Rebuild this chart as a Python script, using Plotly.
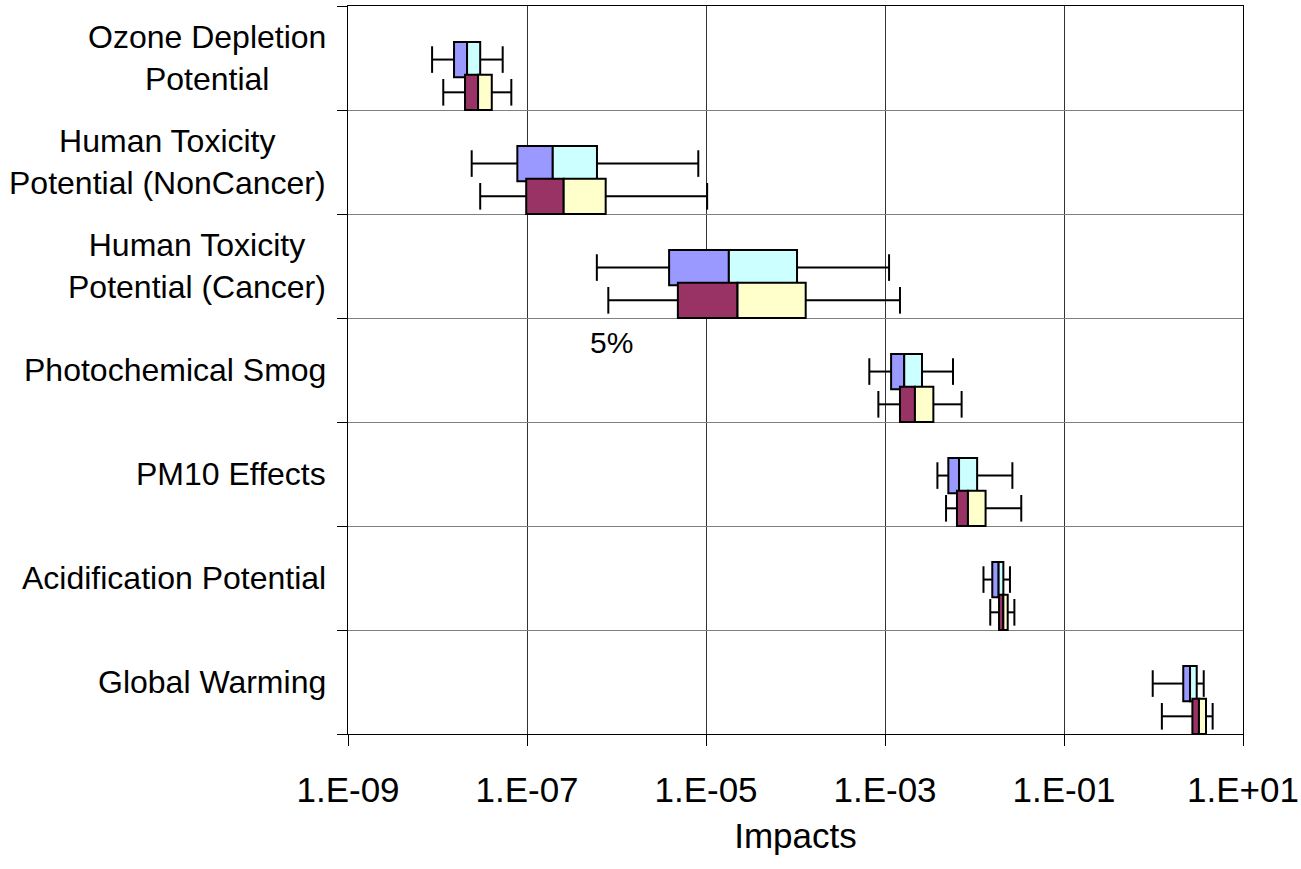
import plotly.graph_objects as go

categories = ["Ozone Depletion<br>Potential",
              "Human Toxicity<br>Potential (NonCancer)",
              "Human Toxicity<br>Potential (Cancer)",
              "Photochemical Smog",
              "PM10 Effects",
              "Acidification Potential",
              "Global Warming"]

# Series A (upper boxes: blue / cyan)
a_min = [8.7e-9, 2.41e-8, 6.03e-7, 6.68e-4, 3.85e-3, 1.26e-2, 0.98]
a_q1  = [1.53e-8, 7.8e-8, 3.87e-6, 1.17e-3, 5.1e-3, 1.58e-2, 2.15]
a_med = [2.14e-8, 1.94e-7, 1.8e-5, 1.64e-3, 6.72e-3, 1.86e-2, 2.56]
a_q3  = [3.0e-8, 6.05e-7, 1.04e-4, 2.59e-3, 1.07e-2, 2.1e-2, 3.04]
a_max = [5.35e-8, 8.2e-6, 1.11e-3, 5.75e-3, 2.65e-2, 2.49e-2, 3.64]

# Series B (lower boxes: maroon / yellow)
b_min = [1.16e-8, 3.0e-8, 8.1e-7, 8.43e-4, 4.81e-3, 1.5e-2, 1.24]
b_q1  = [2.03e-8, 9.8e-8, 4.85e-6, 1.47e-3, 6.37e-3, 1.88e-2, 2.72]
b_med = [2.84e-8, 2.57e-7, 2.25e-5, 2.16e-3, 8.45e-3, 2.1e-2, 3.22]
b_q3  = [4.04e-8, 7.57e-7, 1.3e-4, 3.47e-3, 1.33e-2, 2.35e-2, 3.86]
b_max = [6.68e-8, 1.03e-5, 1.47e-3, 7.18e-3, 3.33e-2, 2.79e-2, 4.58]

tick_vals = [1e-9, 1e-7, 1e-5, 1e-3, 1e-1, 1e1]
tick_text = ["1.E-09", "1.E-07", "1.E-05", "1.E-03", "1.E-01", "1.E+01"]

note_text = "5%"
note_x = 8.7e-7
note_row = 2

FONT = "Liberation Sans, Arial, sans-serif"
n = len(categories)
rows = list(range(n))
ya = [r + 0.515 for r in rows]
yb = [r + 0.83 for r in rows]
BW = 0.34

fig = go.Figure()

def add_series(pos, mn, q1, md, q3, mx, c_left, c_right):
    fig.add_trace(go.Bar(orientation="h", y=pos, base=q1,
                         x=[m - q for m, q in zip(md, q1)], width=BW,
                         marker=dict(color=c_left, line=dict(color="black", width=2)),
                         showlegend=False, hoverinfo="skip"))
    fig.add_trace(go.Bar(orientation="h", y=pos, base=md,
                         x=[q - m for q, m in zip(q3, md)], width=BW,
                         marker=dict(color=c_right, line=dict(color="black", width=2)),
                         showlegend=False, hoverinfo="skip"))
    wx, wy = [], []
    for i in range(len(pos)):
        wx += [mn[i], q1[i], None, q3[i], mx[i], None]
        wy += [pos[i], pos[i], None, pos[i], pos[i], None]
    fig.add_trace(go.Scatter(x=wx, y=wy, mode="lines",
                             line=dict(color="black", width=2),
                             showlegend=False, hoverinfo="skip"))
    fig.add_trace(go.Scatter(x=mn + mx, y=pos + pos, mode="markers",
                             marker=dict(symbol="line-ns-open", size=19, color="black",
                                         line=dict(color="black", width=2)),
                             showlegend=False, hoverinfo="skip"))

add_series(ya, a_min, a_q1, a_med, a_q3, a_max, "#9999FF", "#CCFFFF")
add_series(yb, b_min, b_q1, b_med, b_q3, b_max, "#993366", "#FFFFCC")

annotations = []
for r, lab in zip(rows, categories):
    annotations.append(dict(xref="paper", yref="y", x=0, y=r + 0.5,
                            xanchor="right", yanchor="middle", xshift=-20,
                            text=lab, showarrow=False, align="center",
                            font=dict(family=FONT, size=32, color="black")))
annotations.append(dict(xref="x", yref="y", x=-6.061, y=note_row + 1.24,
                        text=note_text, showarrow=False,
                        xanchor="center", yanchor="middle",
                        font=dict(family=FONT, size=30, color="black")))

fig.update_layout(
    width=1301, height=869,
    margin=dict(l=348, r=58, t=6, b=135, autoexpand=False),
    paper_bgcolor="white", plot_bgcolor="white",
    barmode="overlay",
    annotations=annotations,
    font=dict(family=FONT, color="black"),
    xaxis=dict(type="log", range=[-9, 1], automargin=False,
               tickvals=tick_vals, ticktext=tick_text,
               tickfont=dict(family=FONT, size=35, color="black"),
               ticks="outside", ticklen=11, tickcolor="black",
               ticklabelstandoff=14,
               showgrid=True, gridcolor="#333333", gridwidth=1,
               showline=True, linecolor="black", linewidth=1, mirror=True,
               zeroline=False,
               title=dict(text="Impacts", font=dict(family=FONT, size=35, color="black"),
                          standoff=15)),
    yaxis=dict(range=[n, 0], tickvals=list(range(n + 1)), automargin=False,
               showticklabels=False, ticks="outside", ticklen=10, tickcolor="black",
               showgrid=True, gridcolor="#808080", gridwidth=1,
               showline=True, linecolor="black", linewidth=1, mirror=True,
               zeroline=False),
)

fig.write_html("out.html", config={"displayModeBar": False},
               post_script="document.body.style.margin='0';")
